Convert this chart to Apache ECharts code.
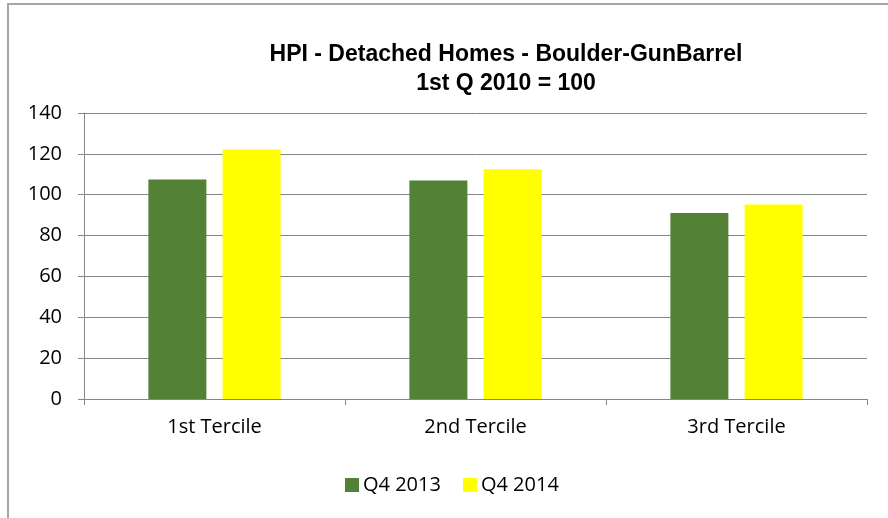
<!DOCTYPE html>
<html>
<head>
<meta charset="utf-8">
<script src="https://cdn.jsdelivr.net/npm/echarts@6/dist/echarts.min.js"></script>
<style>
html,body{margin:0;padding:0;background:#fff;}
#chart{width:888px;height:518px;}
</style>
</head>
<body>
<div id="chart"></div>
<script>
const categories = ['1st Tercile', '2nd Tercile', '3rd Tercile'];
const seriesNames = ['Q4 2013', 'Q4 2014'];
const q4_2013 = [107.4, 106.9, 91.1];
const q4_2014 = [122.1, 112.5, 95.2];
const yTicks = [0, 20, 40, 60, 80, 100, 120, 140];

const chart = echarts.init(document.getElementById('chart'), null, {renderer: 'canvas'});
const labelFont = '"Open Sans", sans-serif';
chart.setOption({
  animation: false,
  backgroundColor: '#fff',
  graphic: [{
    type: 'rect',
    shape: {x: 8, y: 4, width: 900, height: 540},
    style: {fill: 'none', stroke: '#a6a6a6', lineWidth: 2}
  }],
  title: {
    text: 'HPI - Detached Homes - Boulder-GunBarrel\n1st Q 2010 = 100',
    left: 501,
    top: 35,
    textAlign: 'center',
    textStyle: {
      fontFamily: '"Liberation Sans", Arial, sans-serif',
      fontWeight: 'bold',
      fontSize: 23,
      lineHeight: 29,
      color: '#000'
    }
  },
  legend: {
    data: seriesNames,
    top: 475,
    left: 345,
    padding: 0,
    itemWidth: 14,
    itemHeight: 14,
    itemGap: 22,
    icon: 'rect',
    textStyle: {fontFamily: labelFont, fontSize: 20, color: '#000', padding: [0,0,0,-1]}
  },
  grid: {left: 84, right: 21, top: 113, bottom: 119, containLabel: false},
  xAxis: {
    type: 'category',
    data: categories,
    axisLine: {lineStyle: {color: '#868686', width: 1}},
    axisTick: {show: true, length: 6, lineStyle: {color: '#868686'}},
    axisLabel: {fontFamily: labelFont, fontSize: 20, color: '#000', margin: 18}
  },
  yAxis: {
    type: 'value',
    min: 0,
    max: 140,
    interval: 20,
    axisLine: {show: true, lineStyle: {color: '#868686', width: 1}},
    axisTick: {show: true, length: 6, lineStyle: {color: '#868686'}},
    splitLine: {lineStyle: {color: '#868686', width: 1}},
    axisLabel: {fontFamily: labelFont, fontSize: 20, color: '#000', margin: 22,
      formatter: v => yTicks.includes(v) ? String(v) : ''}
  },
  series: [
    {name: seriesNames[0], type: 'bar', data: q4_2013, barWidth: 58, barGap: '28%',
     itemStyle: {color: '#538135'}},
    {name: seriesNames[1], type: 'bar', data: q4_2014, barWidth: 58,
     itemStyle: {color: '#ffff00'}}
  ]
});
</script>
</body>
</html>
